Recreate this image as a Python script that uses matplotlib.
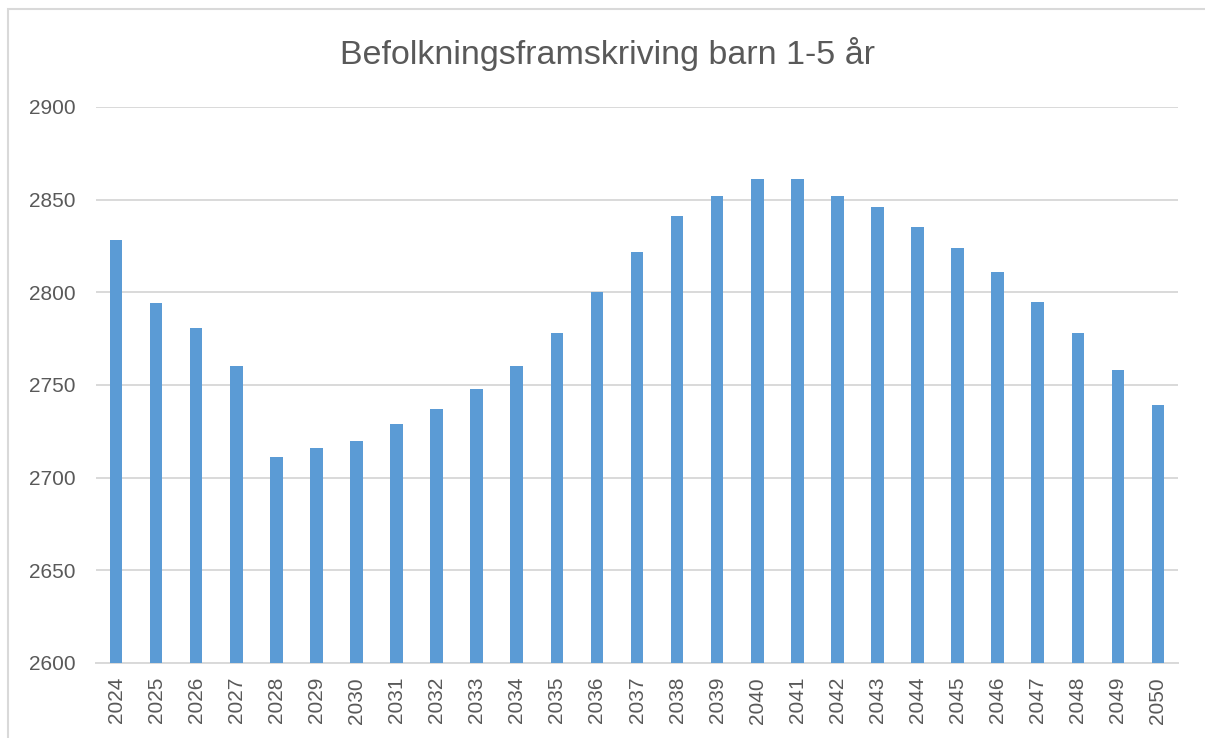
import numpy as np
import matplotlib.pyplot as plt
from matplotlib.patches import Rectangle

# Data
years = [str(y) for y in range(2024, 2051)]
values = [2828, 2794, 2781, 2760, 2711, 2716, 2720, 2729, 2737, 2748,
          2760, 2778, 2800, 2822, 2841, 2852, 2861, 2861, 2852, 2846,
          2835, 2824, 2811, 2795, 2778, 2758, 2739]
yticks = [2600, 2650, 2700, 2750, 2800, 2850, 2900]

text_color = "#595959"
grid_color = "#D9D9D9"
bar_color = "#5B9BD5"

plt.rcParams["font.family"] = ["Liberation Sans", "DejaVu Sans"]

fig = plt.figure(figsize=(12.05, 7.38), dpi=100)
ax = fig.add_axes([96 / 1205, 75 / 738, 1082 / 1205, 556 / 738])

x = np.arange(len(years))
ax.bar(x, values, width=0.315, color=bar_color, zorder=3)

ax.set_xlim(-0.5, len(years) - 0.5)
ax.set_ylim(2600, 2900)
ax.set_yticks(yticks)
ax.set_xticks(x)
ax.set_xticklabels(years, rotation=90)

ax.grid(axis="y", color=grid_color, linewidth=1.4, zorder=0)
for side in ["top", "right", "left"]:
    ax.spines[side].set_visible(False)
ax.spines["bottom"].set_color(grid_color)
ax.spines["bottom"].set_linewidth(1.4)
ax.tick_params(axis="both", length=0, labelsize=15, colors=text_color)
ax.tick_params(axis="y", pad=15)
ax.tick_params(axis="x", pad=10)

fig.text(0.504, 1 - 54 / 738, "Befolkningsframskriving barn 1-5 år",
         ha="center", va="center", fontsize=24.5, color=text_color)

# Chart-area border (cropped on the right and bottom)
fig.patches.append(Rectangle((8 / 1205, -0.1), 1.2, 1.1 - 9 / 738,
                             transform=fig.transFigure, fill=False,
                             edgecolor=grid_color, linewidth=1.5))

fig.savefig("out.png", dpi=100)
